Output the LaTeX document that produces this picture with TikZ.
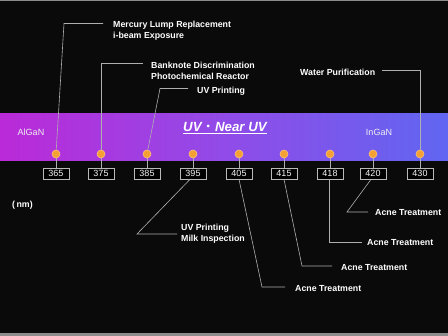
\documentclass[tikz,border=0pt]{standalone}
\usepackage{fontspec}
\setmainfont{Liberation Sans}
\newfontfamily\cjk{Noto Sans CJK JP}
\definecolor{bgblack}{RGB}{10,10,10}
\definecolor{framegray}{RGB}{140,140,140}
\definecolor{linegray}{RGB}{175,175,175}
\definecolor{boxgray}{RGB}{185,185,185}
\definecolor{dotorange}{RGB}{245,160,50}
\definecolor{dotedge}{RGB}{250,195,120}
\definecolor{bandA}{RGB}{208,22,205}
\definecolor{bandA2}{RGB}{195,35,212}
\definecolor{bandB}{RGB}{145,75,232}
\definecolor{bandC}{RGB}{90,105,242}
\definecolor{bandD}{RGB}{55,120,245}
\pgfdeclarehorizontalshading{bandshade}{100bp}{color(0bp)=(bandA); color(20bp)=(bandA2); color(50bp)=(bandB); color(78bp)=(bandC); color(100bp)=(bandD)}
\begin{document}
\begin{tikzpicture}[x=1pt,y=-1pt,
  conn/.style={draw=linegray, line width=0.6pt},
  lbl/.style={anchor=west, text=white, font=\fontsize{8.8}{11}\selectfont\bfseries, inner sep=0pt, align=left},
  dotn/.style={circle, fill=dotorange, draw=dotedge, line width=0.6pt, minimum size=8pt, inner sep=0pt},
  numbox/.style={draw=boxgray, line width=0.7pt, fill=black, text=white!92!gray, minimum width=26pt, minimum height=11pt, inner sep=0pt, font=\fontsize{9}{10}\selectfont},
  bandtxt/.style={text=white!88!gray, font=\fontsize{9}{10}\selectfont, inner sep=0pt}]
\useasboundingbox (0,0) rectangle (448,336);
\fill[bgblack] (0,0) rectangle (448,336);
\fill[framegray] (0,0) rectangle (448,1.5);
\fill[framegray] (0,333.5) rectangle (448,336);
% band
\shade[shading=bandshade] (0,114) rectangle (448,161);
\node[bandtxt] (algan) at (31,132) {AlGaN};
\node[bandtxt] (ingan) at (379,132) {InGaN};
\node[text=white, inner sep=0pt, font=\fontsize{13.3}{15}\selectfont\bfseries\itshape] (uv) at (225,127) {UV{\cjk\upshape\mdseries ・}Near UV};
\draw[white, line width=1.3pt] ([yshift=-1.5pt]uv.south west) -- ([yshift=-1.5pt]uv.south east);
\node[lbl] (nm) at (12,205) {(\,nm)};
% dots and boxes
\foreach \v/\x in {365/56,375/101,385/147,395/193,405/239,415/284,418/330,420/373,430/420}{
  \node[numbox] (b\v) at (\x,173.5) {\v};
  \node[dotn] (d\v) at (\x,154) {};
  \draw[conn] (d\v) -- (b\v);
}
% upper labels
\node[lbl] (t365) at (113,31) {Mercury Lump Replacement\\i-beam Exposure};
\node[lbl] (t375) at (151,71) {Banknote Discrimination\\Photochemical Reactor};
\node[lbl] (t385) at (197,91) {UV Printing};
\node[lbl] (t430) at (300,72) {Water Purification};
\coordinate (k365a) at (64,23.5);  \coordinate (k365b) at (103,23.5);
\coordinate (k375a) at (101,63.5); \coordinate (k375b) at (143,63.5);
\coordinate (k385a) at (160,88.5); \coordinate (k385b) at (188,88.5);
\coordinate (k430a) at (420,70.5); \coordinate (k430b) at (382,70.5);
\draw[conn] (d365) -- (k365a) -- (k365b);
\draw[conn] (d375) -- (k375a) -- (k375b);
\draw[conn] (d385) -- (k385a) -- (k385b);
\draw[conn] (d430) -- (k430a) -- (k430b);
% lower labels
\node[lbl] (t395) at (181,234) {UV Printing\\Milk Inspection};
\node[lbl] (t405) at (295,289) {Acne Treatment};
\node[lbl] (t415) at (341,268) {Acne Treatment};
\node[lbl] (t418) at (367,243) {Acne Treatment};
\node[lbl] (t420) at (375,213) {Acne Treatment};
\coordinate (k395a) at (137,234); \coordinate (k395b) at (177,234);
\coordinate (k405a) at (262,287); \coordinate (k405b) at (285,287);
\coordinate (k415a) at (302,266); \coordinate (k415b) at (332,266);
\coordinate (k418a) at (329,242); \coordinate (k418b) at (362,242);
\coordinate (k420a) at (347,212); \coordinate (k420b) at (368,212);
\draw[conn] ([xshift=-3pt]b395.south) -- (k395a) -- (k395b);
\draw[conn] (b405.south) -- (k405a) -- (k405b);
\draw[conn] (b415.south) -- (k415a) -- (k415b);
\draw[conn] ([xshift=-1pt]b418.south) -- (k418a) -- (k418b);
\draw[conn] ([xshift=-2pt]b420.south) -- (k420a) -- (k420b);
\end{tikzpicture}
\end{document}
